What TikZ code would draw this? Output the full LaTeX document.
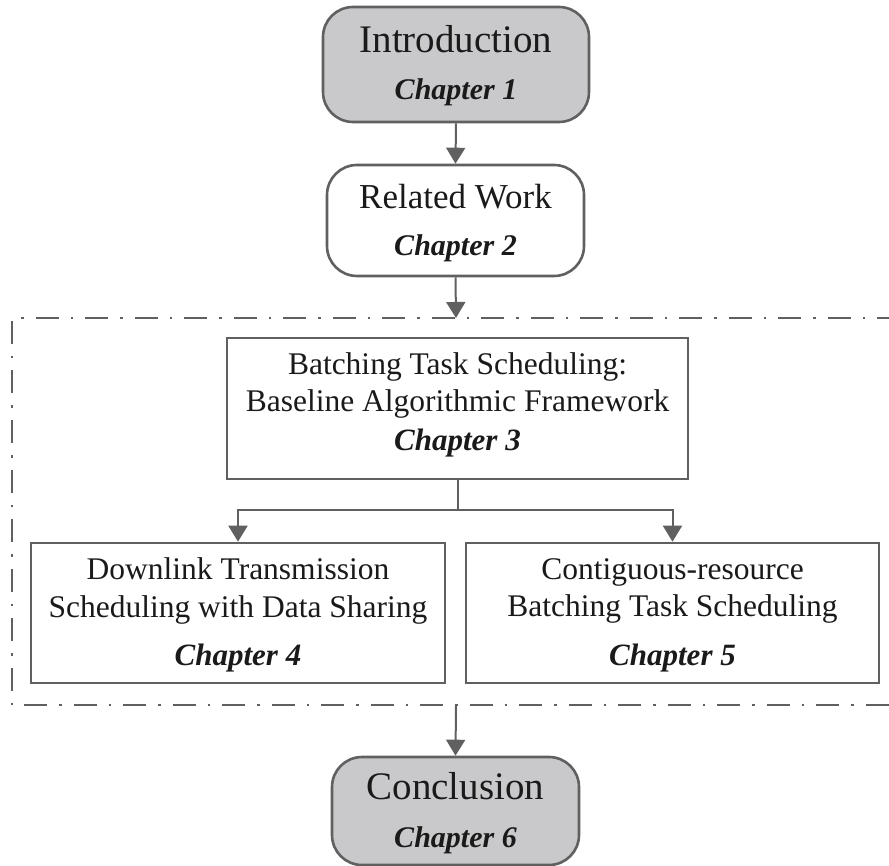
\documentclass[tikz,border=0pt]{standalone}
\usepackage{fontspec}
\setmainfont{Liberation Serif}
\usetikzlibrary{arrows.meta}
\definecolor{lc}{HTML}{606060}
\definecolor{gf}{HTML}{C9C9CB}
\definecolor{tc}{HTML}{1A1A1A}
\begin{document}
\begin{tikzpicture}[x=1pt,y=-1pt,
  roundbox/.style={draw=lc, line width=2.6pt, rounded corners=30pt, inner sep=0pt},
  sqbox/.style={draw=lc, line width=2.6pt, inner sep=0pt},
  txt/.style={anchor=base, text=tc, inner sep=0pt},
  bigttl/.style={txt, font=\fontsize{39}{39}\selectfont},
  midttl/.style={txt, font=\fontsize{35}{35}\selectfont},
  bodyln/.style={txt, font=\fontsize{31.5}{31.5}\selectfont},
  chap/.style={txt, font=\fontsize{31}{31}\selectfont\bfseries\itshape},
  chaps/.style={txt, font=\fontsize{30}{30}\selectfont\bfseries\itshape},
  arr/.style={draw=lc, line width=2pt, -{Triangle[width=19pt,length=16pt]}},
  conn/.style={draw=lc, line width=2pt},
  frame/.style={draw=lc, line width=2.6pt, dash pattern=on 23pt off 12pt on 2.5pt off 12pt}
]
\useasboundingbox (0,0) rectangle (889,866);

% dash-dot frame
\coordinate (ftr) at (900,318);
\coordinate (ftl) at (12,318);
\coordinate (fbl) at (12,705);
\coordinate (fbr) at (900,705);
\draw[frame] (ftr) -- (ftl) -- (fbl) -- (fbr);
\coordinate (ftop) at (456,318);
\coordinate (fbot) at (456,705);
\coordinate (split) at (0,510);

% boxes
\node[roundbox, fill=gf, minimum width=266pt, minimum height=115pt] (intro) at (456,64.5) {};
\node[bigttl] (introT) at (456,53) {Introduction};
\node[chaps] (introC) at (456,100) {Chapter 1};

\node[roundbox, fill=white, minimum width=257pt, minimum height=111pt] (rel) at (455.5,220.5) {};
\node[midttl] (relT) at (455.5,209) {Related Work};
\node[chaps] (relC) at (455.5,256) {Chapter 2};

\node[sqbox, fill=white, minimum width=461pt, minimum height=141pt] (ch3) at (457.5,408.5) {};
\node[bodyln] (ch3a) at (457.5,375) {Batching Task Scheduling:};
\node[bodyln] (ch3b) at (457.5,412) {Baseline Algorithmic Framework};
\node[chap] (ch3C) at (457.5,450) {Chapter 3};

\node[sqbox, fill=white, minimum width=414pt, minimum height=140pt] (ch4) at (238,613) {};
\node[bodyln] (ch4a) at (238,579) {Downlink Transmission};
\node[bodyln] (ch4b) at (238,617) {Scheduling with Data Sharing};
\node[chap] (ch4C) at (238,665) {Chapter 4};

\node[sqbox, fill=white, minimum width=413pt, minimum height=140pt] (ch5) at (672.5,613) {};
\node[bodyln] (ch5a) at (672.5,579) {Contiguous-resource};
\node[bodyln] (ch5b) at (672.5,616) {Batching Task Scheduling};
\node[chap] (ch5C) at (672.5,665) {Chapter 5};

\node[roundbox, fill=gf, minimum width=247pt, minimum height=108pt] (concl) at (455.5,811) {};
\node[bigttl] (conclT) at (455.5,799) {Conclusion};
\node[chaps] (conclC) at (455.5,847) {Chapter 6};

% connectors
\draw[arr] (intro.south) -- (rel.north);
\draw[arr] (rel.south) -- (ftop);
\draw[conn] (ch3.south) -- (ch3.south |- split);
\draw[arr] (ch3.south |- split) -| (ch4.north);
\draw[arr] (ch3.south |- split) -| (ch5.north);
\draw[arr] (fbot) -- (concl.north);
\end{tikzpicture}
\end{document}
